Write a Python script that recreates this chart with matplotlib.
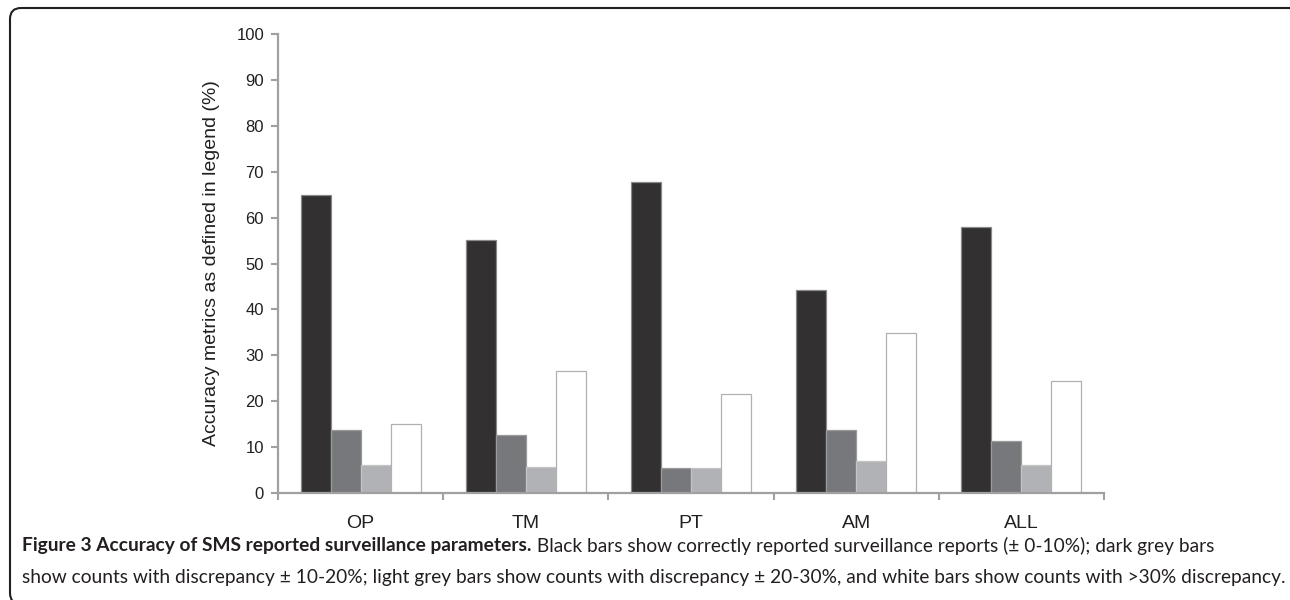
import matplotlib
matplotlib.use("Agg")
import matplotlib.pyplot as plt
import numpy as np
from matplotlib.patches import FancyBboxPatch
from matplotlib.transforms import IdentityTransform

categories = ["OP", "TM", "PT", "AM", "ALL"]
correct_0_10 = [65.0, 55.2, 67.7, 44.2, 58.0]
disc_10_20 = [13.7, 12.6, 5.4, 13.7, 11.4]
disc_20_30 = [6.1, 5.7, 5.4, 7.0, 6.0]
disc_over_30 = [15.0, 26.5, 21.5, 34.8, 24.4]
yticks = list(range(0, 101, 10))
ylabel = "Accuracy metrics as defined in legend (%)"
caption_bold = "Figure 3 Accuracy of SMS reported surveillance parameters."
caption_rest1 = " Black bars show correctly reported surveillance reports (\u00b1 0-10%); dark grey bars"
caption_line2 = ("show counts with discrepancy \u00b1 10-20%; light grey bars show counts with "
                 "discrepancy \u00b1 20-30%, and white bars show counts with >30% discrepancy.")

series = [correct_0_10, disc_10_20, disc_20_30, disc_over_30]
fills = ["#323031", "#77787b", "#b1b2b5", "#ffffff"]
edges = ["#8a8a8a", "#9a9a9a", "#c4c4c4", "#b0b0b0"]

W, H = 1290, 600
fig = plt.figure(figsize=(W / 100, H / 100), dpi=100)
ax = fig.add_axes([278 / W, (H - 493) / H, (1104 - 278) / W, (493 - 34) / H])

x = np.arange(len(categories))
bw = 0.1816
for i, (vals, fc, ec) in enumerate(zip(series, fills, edges)):
    ax.bar(x + (i - 1.5) * bw, vals, width=bw, color=fc, edgecolor=ec, linewidth=0.9, zorder=2)

ax.set_xlim(-0.5, len(categories) - 0.5)
ax.set_ylim(0, 100)
ax.set_yticks(yticks)
ax.set_yticklabels([str(v) for v in yticks], fontsize=12, fontfamily="Liberation Sans", color="#231f20")
ax.set_xticks(np.arange(-0.5, len(categories), 1.0))
ax.set_xticklabels([])
ax.set_xticks(x, minor=True)
ax.set_xticklabels(categories, minor=True, fontsize=14, fontfamily="Liberation Sans", color="#231f20")
ax.tick_params(axis="x", which="minor", length=0, pad=16)
ax.tick_params(axis="x", which="major", length=5, width=1.5, color="#a0a0a0", direction="out")
ax.tick_params(axis="y", length=5, width=1.5, color="#a0a0a0", direction="out", pad=5)
for s in ["top", "right"]:
    ax.spines[s].set_visible(False)
for s in ["left", "bottom"]:
    ax.spines[s].set_color("#a0a0a0")
    ax.spines[s].set_linewidth(1.6)
ax.set_ylabel(ylabel, fontsize=14, fontfamily="Liberation Sans", color="#231f20", labelpad=12)

# frame (bottom and right edges fall just outside the image)
frame = FancyBboxPatch((10, -4), 1291, 596, boxstyle="round,pad=0,rounding_size=11",
                       transform=IdentityTransform(), facecolor="none", edgecolor="#231f20",
                       linewidth=1.5, clip_on=False)
fig.patches.append(frame)

# caption
fam = "Lato"
renderer = fig.canvas.get_renderer()
fs = 13.0
t2 = fig.text(22 / W, (H - 577) / H, caption_line2, fontsize=fs, fontfamily=fam, color="#231f20",
              va="center", ha="left")
wpx = t2.get_window_extent(renderer).width
fs2 = fs * (1283 - 22) / wpx
t2.set_fontsize(fs2)
tb = fig.text(22 / W, (H - 546) / H, caption_bold, fontsize=fs2, fontfamily=fam, fontweight="bold",
              color="#231f20", va="center", ha="left")
bb = tb.get_window_extent(renderer)
fig.text(bb.x1 / W, (H - 546) / H, caption_rest1, fontsize=fs2, fontfamily=fam, color="#231f20",
         va="center", ha="left")

fig.savefig("out.png", dpi=100, facecolor="white")
